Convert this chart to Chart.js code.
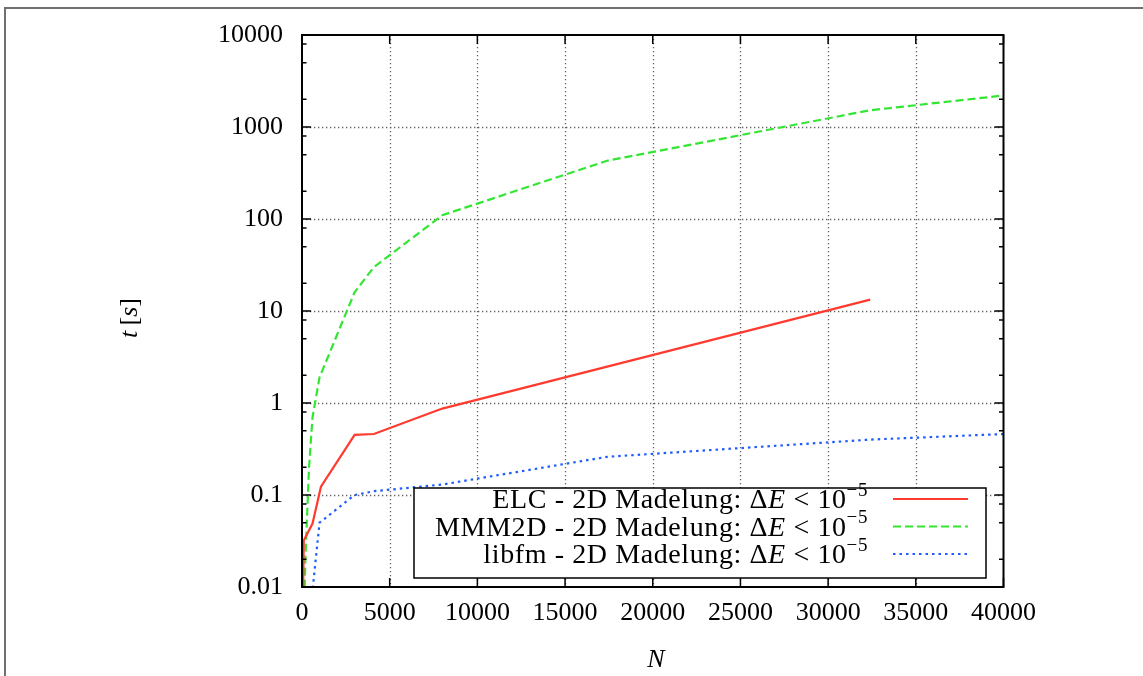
<!DOCTYPE html>
<html>
<head>
<meta charset="utf-8">
<title>Timings</title>
<script src="https://cdn.jsdelivr.net/npm/chart.js@4.4.1/dist/chart.umd.min.js"></script>
<style>
  html, body { margin: 0; padding: 0; background: #fff; overflow: hidden; }
  #page { position: fixed; left: 4px; top: 7px; right: -40px; bottom: -40px; border-left: 2px solid #707070; border-top: 2px solid #707070; }
  #wrap { position: absolute; left: 0; top: 0; width: 1143px; height: 676px; }
</style>
</head>
<body>
<div id="page"></div>
<div id="wrap"><canvas id="chart" width="1143" height="676"></canvas></div>
<script>
// run times t [s] against particle number N
var elcN = [20, 100, 600, 1080, 3000, 4100, 8000, 32400];
var elcT = [0.002, 0.032, 0.049, 0.123, 0.45, 0.46, 0.87, 13.3];

var mmmN = [100, 200, 400, 600, 1000, 3000, 4100, 8000, 17400, 32400, 40000];
var mmmT = [0.004, 0.022, 0.2, 0.7, 1.9, 16, 30, 110, 430, 1520, 2200];

var libN = [500, 1000, 3000, 4100, 8000, 17400, 32400, 40000];
var libT = [0.006, 0.05, 0.1, 0.11, 0.13, 0.26, 0.4, 0.46];

var seriesNames = ['ELC - 2D Madelung', 'MMM2D - 2D Madelung', 'libfm - 2D Madelung'];
var seriesColors = ['#ff3b2f', '#33e633', '#1f5cff'];
var seriesDash = [[], [8, 4], [2.5, 4]];

var yTicks = [0.01, 0.1, 1, 10, 100, 1000, 10000];
var yTickLabels = ['0.01', '0.1', '1', '10', '100', '1000', '10000'];
var yMinor = [2, 5, 8];
var xTicks = [0, 5000, 10000, 15000, 20000, 25000, 30000, 35000, 40000];

var FONT = "'Liberation Serif', 'Times New Roman', serif";
var FS = 26;

function toPoints(xs, ys) {
  var pts = [];
  for (var i = 0; i < xs.length; i++) pts.push({x: xs[i], y: ys[i]});
  return pts;
}

// draws a row of text pieces with mixed fonts, starting at x
function drawPieces(ctx, pieces, x, y) {
  for (var i = 0; i < pieces.length; i++) {
    var p = pieces[i];
    ctx.font = p.font;
    ctx.fillText(p.t, x, y - (p.rise || 0));
    x += ctx.measureText(p.t).width;
  }
  return x;
}
function piecesWidth(ctx, pieces) {
  var w = 0;
  for (var i = 0; i < pieces.length; i++) {
    ctx.font = pieces[i].font;
    w += ctx.measureText(pieces[i].t).width;
  }
  return w;
}

var roman = FS + 'px ' + FONT;
var italic = 'italic ' + FS + 'px ' + FONT;
var keyRoman = '28px ' + FONT;
var keyItalic = 'italic 28px ' + FONT;
var keySmall = '19px ' + FONT;

var framePlugin = {
  id: 'framePlugin',
  beforeDatasetsDraw: function(chart) {
    var ctx = chart.ctx, a = chart.chartArea;
    var xs = chart.scales.x, ys = chart.scales.y;
    ctx.save();
    ctx.strokeStyle = '#606060';
    ctx.lineWidth = 1.3;
    ctx.setLineDash([1.3, 2.7]);
    for (var i = 1; i < xTicks.length - 1; i++) {
      var px = Math.round(xs.getPixelForValue(xTicks[i])) + 0.5;
      ctx.beginPath(); ctx.moveTo(px, a.top); ctx.lineTo(px, a.bottom); ctx.stroke();
    }
    for (var j = 1; j < yTicks.length - 1; j++) {
      var py = Math.round(ys.getPixelForValue(yTicks[j])) + 0.5;
      ctx.beginPath(); ctx.moveTo(a.left, py); ctx.lineTo(a.right, py); ctx.stroke();
    }
    ctx.restore();
  },
  afterDatasetsDraw: function(chart) {
    var ctx = chart.ctx, a = chart.chartArea;
    var xs = chart.scales.x, ys = chart.scales.y;
    ctx.save();
    ctx.strokeStyle = '#000';
    ctx.lineWidth = 1.5;
    ctx.setLineDash([]);
    // inward tick marks
    ctx.beginPath();
    for (var i = 0; i < xTicks.length; i++) {
      var px = xs.getPixelForValue(xTicks[i]);
      ctx.moveTo(px, a.bottom); ctx.lineTo(px, a.bottom - 9);
      ctx.moveTo(px, a.top); ctx.lineTo(px, a.top + 9);
    }
    for (var j = 0; j < yTicks.length; j++) {
      var py = ys.getPixelForValue(yTicks[j]);
      ctx.moveTo(a.left, py); ctx.lineTo(a.left + 9, py);
      ctx.moveTo(a.right, py); ctx.lineTo(a.right - 9, py);
      if (j < yTicks.length - 1) {
        for (var k = 0; k < yMinor.length; k++) {
          var my = ys.getPixelForValue(yTicks[j] * yMinor[k]);
          ctx.moveTo(a.left, my); ctx.lineTo(a.left + 4.5, my);
          ctx.moveTo(a.right, my); ctx.lineTo(a.right - 4.5, my);
        }
      }
    }
    ctx.stroke();
    ctx.lineWidth = 2;
    ctx.strokeRect(a.left, a.top, a.right - a.left, a.bottom - a.top);

    // key box
    var bx = 414, by = 488, bw = 572, bh = 90;
    ctx.fillStyle = '#fff';
    ctx.fillRect(bx, by, bw, bh);
    ctx.lineWidth = 1.5;
    ctx.strokeRect(bx, by, bw, bh);
    ctx.fillStyle = '#000';
    ctx.textBaseline = 'middle';
    ctx.textAlign = 'left';
    ctx.letterSpacing = '0.6px';
    for (var s = 0; s < seriesNames.length; s++) {
      var ry = 499 + s * 27.5;
      var pieces = [
        {t: seriesNames[s] + ': ', font: keyRoman},
        {t: '\u0394', font: keyRoman},
        {t: 'E', font: keyItalic},
        {t: ' < 10', font: keyRoman},
        {t: '\u22125', font: keySmall, rise: 10}
      ];
      var w = piecesWidth(ctx, pieces);
      drawPieces(ctx, pieces, 868 - w, ry + 2);
      ctx.strokeStyle = seriesColors[s];
      ctx.lineWidth = 2.2;
      ctx.setLineDash(seriesDash[s]);
      ctx.beginPath(); ctx.moveTo(893, ry); ctx.lineTo(968, ry); ctx.stroke();
      ctx.setLineDash([]);
    }
    ctx.letterSpacing = '0px';
    ctx.restore();
  },
  afterDraw: function(chart) {
    var ctx = chart.ctx;
    ctx.save();
    ctx.fillStyle = '#000';
    ctx.textBaseline = 'middle';
    ctx.textAlign = 'left';
    // x axis title
    ctx.font = italic;
    var nw = ctx.measureText('N').width;
    ctx.fillText('N', 656 - nw / 2, 660);
    // y axis title, rotated
    var yt = [
      {t: 't', font: italic},
      {t: '\u2009[', font: roman},
      {t: 's', font: italic},
      {t: ']', font: roman}
    ];
    ctx.translate(130, 318);
    ctx.rotate(-Math.PI / 2);
    var tw = piecesWidth(ctx, yt);
    drawPieces(ctx, yt, -tw / 2, 0);
    ctx.restore();
  }
};

var datasets = [
  toPoints(elcN, elcT),
  toPoints(mmmN, mmmT),
  toPoints(libN, libT)
].map(function(pts, i) {
  return {
    label: seriesNames[i],
    data: pts,
    borderColor: seriesColors[i],
    borderDash: seriesDash[i],
    borderWidth: 2.2,
    pointRadius: 0,
    tension: 0,
    fill: false
  };
});

var chart = new Chart(document.getElementById('chart'), {
  type: 'line',
  data: { datasets: datasets },
  plugins: [framePlugin],
  options: {
    responsive: false,
    animation: false,
    layout: { padding: { left: 0, top: 35, right: 139.5, bottom: 0 } },
    plugins: {
      legend: { display: false },
      tooltip: { enabled: false }
    },
    scales: {
      x: {
        type: 'linear',
        min: 0,
        max: 40000,
        afterFit: function(scale) { scale.height = 89; },
        afterBuildTicks: function(scale) {
          scale.ticks = xTicks.map(function(v) { return {value: v}; });
        },
        ticks: {
          color: '#000',
          padding: 11,
          maxRotation: 0,
          font: { family: FONT, size: FS },
          callback: function(v) { return String(v); }
        },
        grid: { display: false, drawTicks: false },
        border: { display: false }
      },
      y: {
        type: 'logarithmic',
        min: 0.01,
        max: 10000,
        afterFit: function(scale) { scale.width = 302; },
        afterBuildTicks: function(scale) {
          scale.ticks = yTicks.map(function(v) { return {value: v}; });
        },
        ticks: {
          color: '#000',
          padding: 19,
          font: { family: FONT, size: FS },
          callback: function(v) {
            var i = yTicks.indexOf(v);
            return i >= 0 ? yTickLabels[i] : '';
          }
        },
        grid: { display: false, drawTicks: false },
        border: { display: false }
      }
    }
  }
});
</script>
</body>
</html>
